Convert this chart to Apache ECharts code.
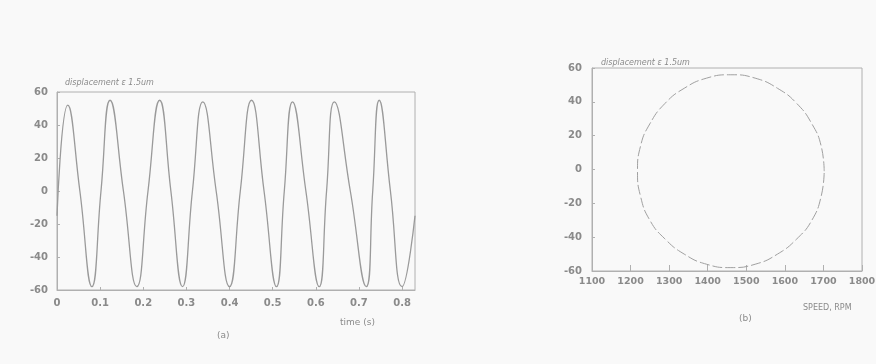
<!DOCTYPE html>
<html>
<head>
<meta charset="utf-8">
<script src="https://cdn.jsdelivr.net/npm/echarts@6/dist/echarts.min.js"></script>
<style>
  html, body { margin: 0; padding: 0; background: #f9f9f9; }
  #chart { width: 876px; height: 364px; }
</style>
</head>
<body>
<div id="chart"></div>
<script>
// (a) displacement vs time
const waveTime = [0, 0.025, 0.053, 0.081, 0.102, 0.123, 0.154, 0.185, 0.211, 0.238, 0.264, 0.291,
  0.314, 0.338, 0.369, 0.400, 0.425, 0.451, 0.480, 0.509, 0.527, 0.546, 0.577, 0.608,
  0.625, 0.643, 0.680, 0.717, 0.732, 0.747, 0.773, 0.800, 0.83];
const waveAmp = [-15, 52, 0, -58, 0, 55, 0, -58, 0, 55, 0, -58,
  0, 54, 0, -58, 0, 55, 0, -58, 0, 54, 0, -58,
  0, 54, 0, -58, 0, 55, 0, -58, -15];

// (b) orbit vs speed
const orbitSpeed = [1702, 1694, 1670, 1631, 1581, 1523, 1460, 1397, 1339, 1289, 1250, 1226, 1218,
  1226, 1250, 1289, 1339, 1397, 1460, 1523, 1581, 1631, 1670, 1694, 1702];
const orbitAmp = [-1, 14, 27, 39, 48, 54, 56, 54, 48, 39, 27, 14, -1,
  -16, -30, -41, -50, -56, -58, -56, -50, -41, -30, -16, -1];

const timeTicks = [0, 0.1, 0.2, 0.3, 0.4, 0.5, 0.6, 0.7, 0.8];

const ink = '#8a8a8a';
const box = '#b0b0b0';
const font = 'DejaVu Sans';

const chart = echarts.init(document.getElementById('chart'));

const axisCommon = {
  axisLine: { onZero: false, lineStyle: { color: box } },
  axisTick: { inside: true, length: 3, lineStyle: { color: box } },
  splitLine: { show: false },
  axisLabel: { color: ink, fontSize: 10, fontFamily: font, fontWeight: 'bold' },
};

const small = (text, left, top, size, italic) => ({
  text, left, top,
  textStyle: { color: ink, fontSize: size, fontStyle: italic ? 'italic' : 'normal', fontWeight: 'normal', fontFamily: font },
});

chart.setOption({
  backgroundColor: '#f9f9f9',
  animation: false,
  title: [
    small('displacement ε 1.5um', 60, 74, 8, true),
    small('displacement ε 1.5um', 596, 54, 8, true),
    small('(a)', 212, 326, 9),
    small('time (s)', 335, 313, 9),
    small('(b)', 734, 309, 9),
    small('SPEED, RPM', 798, 299, 8),
  ],
  grid: [
    { left: 57, right: 461, top: 92, bottom: 74, show: true, borderColor: box, borderWidth: 1, outerBoundsMode: 'none' },
    { left: 592, right: 14, top: 68, bottom: 93, show: true, borderColor: box, borderWidth: 1, outerBoundsMode: 'none' },
  ],
  xAxis: [
    {
      ...axisCommon, gridIndex: 0, type: 'value', min: 0, max: 0.83, interval: 0.1,
      axisLabel: { ...axisCommon.axisLabel, margin: 8, showMaxLabel: false,
        formatter: v => (timeTicks.includes(Math.round(v * 10) / 10) ? String(Math.round(v * 10) / 10) : '') },
    },
    {
      ...axisCommon, gridIndex: 1, type: 'value', min: 1100, max: 1800, interval: 100,
      axisTick: { inside: true, length: 6, lineStyle: { color: box } },
      axisLabel: { ...axisCommon.axisLabel, fontSize: 9.5, margin: 6, formatter: v => String(v) },
    },
  ],
  yAxis: [
    { ...axisCommon, gridIndex: 0, type: 'value', min: -60, max: 60, interval: 20,
      axisLabel: { ...axisCommon.axisLabel, margin: 9 } },
    { ...axisCommon, gridIndex: 1, type: 'value', min: -60, max: 60, interval: 20,
      axisLabel: { ...axisCommon.axisLabel, margin: 10 } },
  ],
  series: [
    {
      type: 'line', xAxisIndex: 0, yAxisIndex: 0, smooth: 0.5, symbol: 'none',
      lineStyle: { color: '#9a9a9a', width: 1.3 },
      data: waveTime.map((t, i) => [t, waveAmp[i]]),
    },
    {
      type: 'line', xAxisIndex: 1, yAxisIndex: 1, smooth: 0.5, symbol: 'none',
      lineStyle: { color: '#a0a0a0', width: 1, type: [10, 3] },
      data: orbitSpeed.map((s, i) => [s, orbitAmp[i]]),
    },
  ],
});
</script>
</body>
</html>
